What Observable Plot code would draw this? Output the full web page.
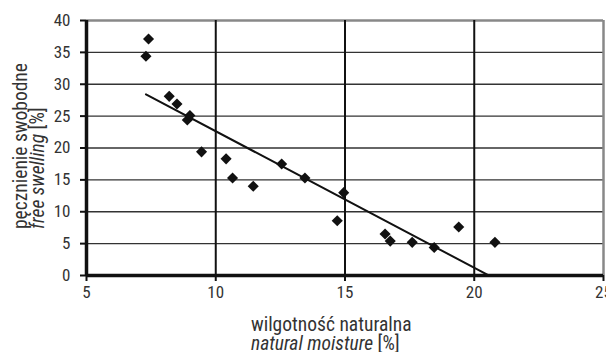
<!DOCTYPE html>
<html>
<head>
<meta charset="utf-8">
<script src="https://cdn.jsdelivr.net/npm/d3@7"></script>
<script src="https://cdn.jsdelivr.net/npm/@observablehq/plot@0.6"></script>
<style>
  html, body { margin: 0; padding: 0; background: #fff; }
  #chart { width: 606px; height: 352px; }
</style>
</head>
<body>
<div id="chart"></div>
<script>
// natural moisture [%]
const moisture = [7.3, 7.4, 8.2, 8.5, 8.9, 9.0, 9.45, 10.4, 10.65, 11.45, 12.55, 13.45, 14.95, 14.7, 16.55, 16.75, 17.6, 18.45, 19.4, 20.8];
// free swelling [%]
const swelling = [34.4, 37.1, 28.1, 26.9, 24.4, 25.1, 19.4, 18.3, 15.3, 14.0, 17.5, 15.3, 13.0, 8.6, 6.5, 5.4, 5.2, 4.4, 7.6, 5.2];

const xTicks = [5, 10, 15, 20, 25];
const yTicks = [0, 5, 10, 15, 20, 25, 30, 35, 40];
const yGrid = [5, 10, 15, 20, 25, 30, 35];
const xGrid = [10, 15, 20];

const yTitle1 = "pęcznienie swobodne";
const yTitle2a = "free swelling";
const yTitle2b = " [%]";
const xTitle1 = "wilgotność naturalna";
const xTitle2a = "natural moisture";
const xTitle2b = " [%]";

const data = moisture.map((m, i) => ({m, s: swelling[i]}));
const FONT = "'Liberation Sans Narrow', 'Arial Narrow', 'Roboto Condensed', 'Liberation Sans', Arial, sans-serif";

const plot = Plot.plot({
  width: 606,
  height: 352,
  marginLeft: 86,
  marginRight: 3,
  marginTop: 20,
  marginBottom: 77,
  style: {fontFamily: FONT, fontSize: "17px", color: "#222", background: "#fff"},
  x: {domain: [5, 25], ticks: xTicks, label: null},
  y: {domain: [0, 40], ticks: yTicks, label: null},
  marks: [
    Plot.ruleY(yGrid, {stroke: "#333", strokeWidth: 1.3}),
    Plot.ruleY([40], {stroke: "#888", strokeWidth: 2.5}),
    Plot.ruleX(xGrid, {stroke: "#111", strokeWidth: 2}),
    Plot.ruleX([25], {stroke: "#888", strokeWidth: 2.5}),
    Plot.axisX({ticks: xTicks, tickSize: 6, tickPadding: 4, stroke: "#111", strokeWidth: 2, fontSize: 17, label: null, fill: "#333"}),
    Plot.axisY({ticks: yTicks, tickSize: 6, tickPadding: 10, stroke: "#111", strokeWidth: 2, fontSize: 17, label: null, fill: "#333"}),
    Plot.ruleX([5], {stroke: "#111", strokeWidth: 3.5}),
    Plot.ruleY([0], {stroke: "#111", strokeWidth: 3.5}),
    Plot.linearRegressionY(data, {x: "m", y: "s", ci: 0, stroke: "#111", strokeWidth: 2, clip: true}),
    Plot.dot(data, {x: "m", y: "s", symbol: "diamond2", r: 5, fill: "#111", stroke: "none"})
  ]
});
document.getElementById("chart").appendChild(plot);

// multi-style axis titles as real SVG text
const svg = d3.select(plot);
const g = svg.append("g")
  .attr("font-family", FONT).attr("font-size", 19.5).attr("fill", "#333")
  .attr("text-anchor", "start");
g.append("text").attr("x", 251).attr("y", 331).text(xTitle1);
const tx2 = g.append("text").attr("x", 251).attr("y", 349.5);
tx2.append("tspan").attr("font-style", "italic").text(xTitle2a);
tx2.append("tspan").text(xTitle2b);

g.append("text").attr("transform", "translate(27,229) rotate(-90)").text(yTitle1);
const ty2 = g.append("text").attr("transform", "translate(44,229) rotate(-90)");
ty2.append("tspan").attr("font-style", "italic").text(yTitle2a);
ty2.append("tspan").text(yTitle2b);
</script>
</body>
</html>
